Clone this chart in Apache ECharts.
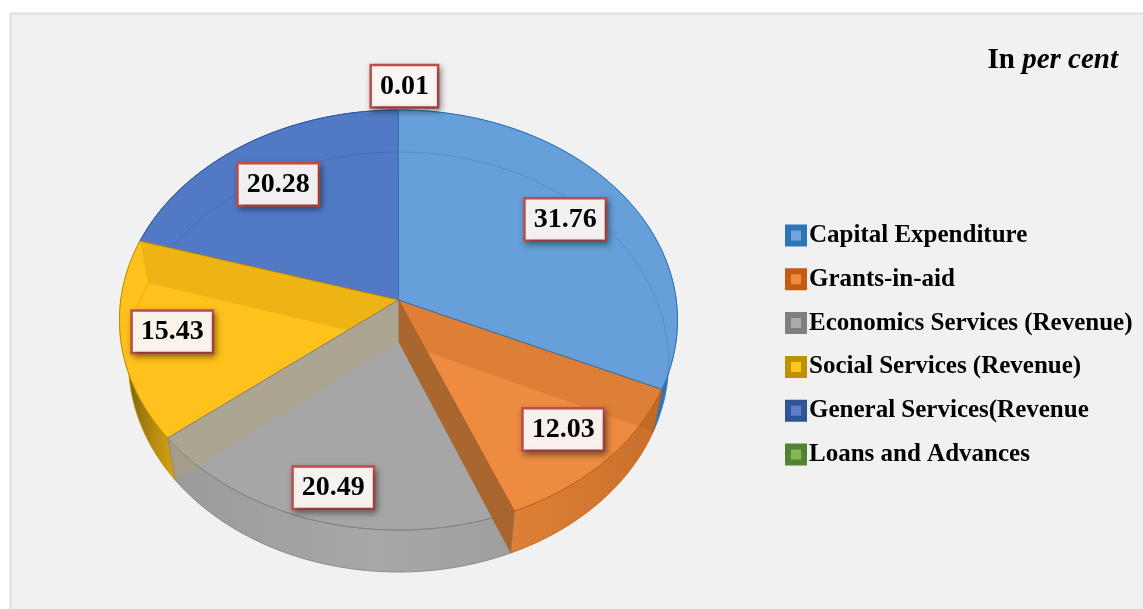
<!DOCTYPE html>
<html>
<head>
<meta charset="utf-8">
<style>html,body{margin:0;padding:0;background:#fff}#c{width:1143px;height:609px}</style>
<script src="https://cdn.jsdelivr.net/npm/echarts@6/dist/echarts.min.js"></script>
</head>
<body>
<div id="c"></div>
<script>
const categories = ['Capital Expenditure','Grants-in-aid','Economics Services (Revenue)','Social Services (Revenue)','General Services(Revenue','Loans and Advances'];
const shareValues = [31.76,12.03,20.49,15.43,20.28,0.01];
const valueLabels = ['31.76','12.03','20.49','15.43','20.28','0.01'];
const topColors = ['#669FD9','#ED8B40','#A6A6A6','#FFC11C','#5279C6','#7FB653'];
const edgeColors = ['#2E75B6','#C55A11','#7F7F7F','#BF9000','#2F5597','#548235'];
const legendFill = ['#6FA5DB','#EE8C45','#ABABAB','#FFC61F','#5B80CB','#82BA55'];

// pie geometry: tilted disc, perspective shifts the visual centre
const TOP = {cx:398.5, cy:320, rx:279, ry:210};
const BOTTOM = {cx:398.5, cy:362, rx:270, ry:210};
const E = 0.095, S = Math.sqrt(1 - E*E);
function rim(pct, f){
  const t = pct/100*2*Math.PI, u = Math.sin(t), v = -Math.cos(t), d = 1 - E*v;
  return [f.cx + f.rx*u*S/d, f.cy + f.ry*(v - E)/d];
}
function apex(f){ return [f.cx, f.cy - f.ry*E]; }
function arc(a, b, f){
  const n = Math.max(2, Math.ceil((b-a)*3)), r = [];
  for (let i=0;i<=n;i++) r.push(rim(a+(b-a)*i/n, f));
  return r;
}
function cross(p1,p2,p3,p4){
  const d=(p1[0]-p2[0])*(p3[1]-p4[1])-(p1[1]-p2[1])*(p3[0]-p4[0]);
  const t=((p1[0]-p3[0])*(p3[1]-p4[1])-(p1[1]-p3[1])*(p3[0]-p4[0]))/d;
  return [p1[0]+t*(p2[0]-p1[0]), p1[1]+t*(p2[1]-p1[1])];
}
const G = echarts.graphic.LinearGradient;
const wallFill = [
  '#2E75B6',
  new G(0,0,1,0,[{offset:0,color:'#DE8038'},{offset:1,color:'#C96F2B'}]),
  new G(0,0,1,0,[{offset:0,color:'#9A9A9A'},{offset:0.6,color:'#A8A8A8'},{offset:1,color:'#9E9E9E'}]),
  new G(0,0,1,0,[{offset:0,color:'#6A5410'},{offset:0.5,color:'#A98210'},{offset:1,color:'#D9A510'}]),
  '#2F5597','#548235'
];
const wallOrder = [3,4,5,0,1,2];
// fraction of the way out along each slice's middle ray, plus a small pixel nudge
const labelReach = [0.76,0.80,0.85,0.80,0.77,1.13];
const labelNudge = [[-2,1],[-1,1],[0,-1],[-4,0],[-2,4],[6,1]];

function renderSlice(params, api){
  const i = params.seriesIndex, val = api.value(0);
  let a = 0; for (let k=0;k<i;k++) a += shareValues[k];
  const b = a + val, kids = [];
  const ap = apex(TOP), apB = apex(BOTTOM);
  // outer wall
  const topArc = arc(a,b,TOP), botArc = arc(a,b,BOTTOM);
  kids.push({type:'polygon', z2:1+wallOrder.indexOf(i),
    shape:{points:topArc.concat(botArc.slice().reverse())},
    style:{fill:wallFill[i], stroke:edgeColors[i], lineWidth:0.8}});
  // top face
  kids.push({type:'polygon', z2:16-i,
    shape:{points:[ap].concat(topArc)},
    style:{fill:topColors[i], stroke:i===5?'none':edgeColors[i], lineWidth:1}});
  // floor rim seen through the translucent top
  if (i===0) kids.push({type:'polyline', z2:20, shape:{points:arc(a,b-2.2,BOTTOM)},
    style:{fill:'none', stroke:edgeColors[0], opacity:0.35, lineWidth:1}});
  if (i===4) kids.push({type:'polyline', z2:20, shape:{points:arc(a+3.3,b,BOTTOM)},
    style:{fill:'none', stroke:edgeColors[4], opacity:0.35, lineWidth:1}});
  if (i===3) kids.push({type:'polyline', z2:20, shape:{points:arc(b-2,b,BOTTOM)},
    style:{fill:'none', stroke:edgeColors[3], opacity:0.4, lineWidth:1}});
  // inner radial walls seen through the translucent top
  if (i===1) {
    const r1 = rim(a,BOTTOM);
    kids.push({type:'polygon', z2:22, shape:{points:[ap, rim(a,TOP), r1, cross(r1,apB,ap,rim(b,TOP))]},
      style:{fill:'rgba(160,80,20,0.2)', stroke:'none'}});
    kids.push({type:'polygon', z2:25, shape:{points:[ap, rim(b,TOP), rim(b,BOTTOM), apB]},
      style:{fill:'rgba(169,98,38,0.93)', stroke:'none'}});
  }
  if (i===2) kids.push({type:'polygon', z2:23, shape:{points:[ap, rim(b,TOP), rim(b,BOTTOM), apB]},
    style:{fill:'rgba(201,166,66,0.2)', stroke:'none'}});
  if (i===3) {
    const r1 = rim(b,BOTTOM);
    kids.push({type:'polygon', z2:22, shape:{points:[ap, rim(b,TOP), r1, cross(r1,apB,ap,rim(a,TOP))]},
      style:{fill:'rgba(170,130,0,0.2)', stroke:'none'}});
  }
  // value box
  const mid = rim((a+b)/2, TOP), t = labelReach[i];
  kids.push({type:'text', z2:40, style:{
    x: ap[0]+(mid[0]-ap[0])*t + labelNudge[i][0],
    y: ap[1]+(mid[1]-ap[1])*t + labelNudge[i][1],
    text: valueLabels[i], align:'center', verticalAlign:'middle',
    font:'bold 28px "Liberation Serif"', fill:'#000',
    backgroundColor:'rgba(255,252,250,0.93)', borderColor:'#C0504D', borderWidth:2.5,
    padding:[7,8,5,8], shadowColor:'rgba(0,0,0,0.35)', shadowBlur:6, shadowOffsetX:2, shadowOffsetY:3
  }});
  return {type:'group', children:kids};
}

const chart = echarts.init(document.getElementById('c'), null, {renderer:'canvas'});
chart.setOption({
  animation:false,
  backgroundColor:'#FFFFFF',
  graphic:[{type:'rect', z:-10, silent:true,
    shape:{x:10.5,y:13.5,width:1160,height:620},
    style:{fill:'#F1F1F1', stroke:'#DDDDDD', lineWidth:2}}],
  title:{
    right:20, top:41,
    text:'{a|In }{b|per cent}',
    textStyle:{rich:{
      a:{fontFamily:'Liberation Serif', fontWeight:'bold', fontSize:29, color:'#000'},
      b:{fontFamily:'Liberation Serif', fontWeight:'bold', fontStyle:'italic', fontSize:29, color:'#000'}
    }}
  },
  legend:{
    orient:'vertical', left:785, top:223, padding:0,
    itemWidth:16, itemHeight:16, itemGap:18.8, icon:'rect', selectedMode:false,
    textStyle:{fontFamily:'Liberation Serif', fontWeight:'bold', fontSize:25, color:'#000'},
    data:categories.map((n,i)=>({name:n, itemStyle:{color:legendFill[i], borderColor:edgeColors[i], borderWidth:6}}))
  },
  series:categories.map((n,i)=>({
    type:'custom', name:n, coordinateSystem:'none', silent:true,
    itemStyle:{color:topColors[i]},
    renderItem:renderSlice, data:[shareValues[i]]
  }))
});
</script>
</body>
</html>
